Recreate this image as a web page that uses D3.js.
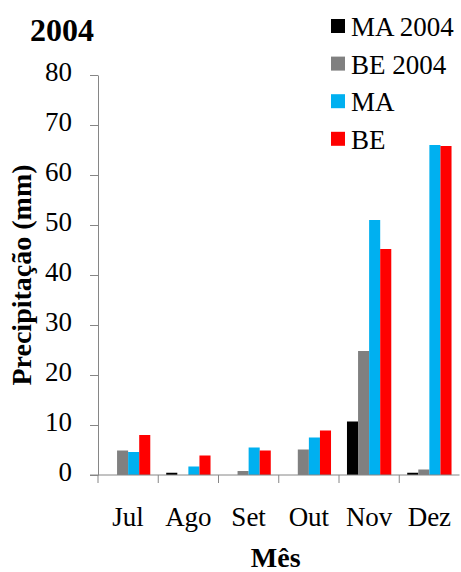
<!DOCTYPE html>
<html>
<head>
<meta charset="utf-8">
<script src="https://cdn.jsdelivr.net/npm/d3@7"></script>
<style>
  body { margin: 0; background: #fff; }
  svg text { fill: #000; }
</style>
</head>
<body>
<div id="chart"></div>
<script>
// chart data
const months = ["Jul", "Ago", "Set", "Out", "Nov", "Dez"]
const seriesNames = ["MA 2004", "BE 2004", "MA", "BE"]
const seriesColors = ["#000000", "#808080", "#00B0F0", "#FF0000"]
const ma2004 = [0, 0.45, 0, 0, 10.7, 0.45]
const be2004 = [4.9, 0, 0.8, 5.1, 24.8, 1.1]
const maMean = [4.6, 1.7, 5.5, 7.5, 51.0, 66.0]
const beMean = [8.0, 3.9, 4.9, 8.9, 45.2, 65.8]
const yTicks = [0, 10, 20, 30, 40, 50, 60, 70, 80]

const allSeries = [ma2004, be2004, maMean, beMean]

const WD = 461, HT = 572
const margin = { left: 98, right: 1.5, top: 75, bottom: 97 }
const width = WD - margin.left - margin.right
const height = HT - margin.top - margin.bottom

const axisColor = "#868686"
const serif = "Times New Roman, Times, Liberation Serif, DejaVu Serif, serif"

var svg = d3.select("#chart")
            .append("svg")
                .attr("width", WD)
                .attr("height", HT)
                .style("font-family", serif);

var g = svg.append("g")
            .attr("transform", "translate(" + margin.left + "," + margin.top + ")");

const xs = d3.scaleBand()
            .domain(months)
            .range([0, width])
            .padding(0)

const xInner = d3.scaleBand()
            .domain(d3.range(seriesNames.length))
            .range([0, xs.bandwidth()])
            .paddingInner(0)
            .paddingOuter(0.72)

const ys = d3.scaleLinear().domain([0, 80]).range([height, 0])

// bars
const table = months.map((m, i) => ({ month: m, values: allSeries.map(s => s[i]) }))

var groups = g.selectAll(".grp")
    .data(table)
    .enter()
    .append("g")
        .attr("class", "grp")
        .attr("transform", d => "translate(" + xs(d.month) + ",0)")

groups.selectAll("rect")
    .data(d => d.values.map((v, k) => ({ k: k, v: v })))
    .enter()
    .append("rect")
        .attr("x", d => xInner(d.k))
        .attr("y", d => ys(d.v))
        .attr("width", xInner.bandwidth())
        .attr("height", d => height - ys(d.v))
        .attr("fill", d => seriesColors[d.k])

// y axis
var yAxis = g.append("g")
    .call(d3.axisLeft(ys).tickValues(yTicks).tickSize(8).tickPadding(18).tickSizeOuter(0))
yAxis.attr("font-family", null)
yAxis.select(".domain").attr("stroke", axisColor)
yAxis.selectAll(".tick line").attr("stroke", axisColor)
yAxis.selectAll(".tick text")
    .attr("font-size", "27px")
    .attr("dy", "0.22em")
    .style("font-family", serif)

// x axis: ticks at category boundaries
var xAxis = g.append("g")
    .attr("transform", "translate(0," + height + ")")
xAxis.append("line")
    .attr("x1", -8).attr("x2", width)
    .attr("stroke", axisColor)
xAxis.selectAll(".xtick")
    .data(months)
    .enter()
    .append("line")
        .attr("class", "xtick")
        .attr("x1", d => xs(d)).attr("x2", d => xs(d))
        .attr("y1", 0).attr("y2", 8)
        .attr("stroke", axisColor)
xAxis.selectAll(".xlabel")
    .data(months)
    .enter()
    .append("text")
        .attr("class", "xlabel")
        .attr("x", d => xs(d) + xs.bandwidth() / 2)
        .attr("y", 51)
        .attr("text-anchor", "middle")
        .attr("font-size", "27px")
        .text(d => d)

// axis titles
svg.append("text")
    .attr("x", margin.left + width / 2 - 3)
    .attr("y", 567)
    .attr("text-anchor", "middle")
    .attr("font-size", "28px")
    .attr("font-weight", "bold")
    .text("Mês")

svg.append("text")
    .attr("transform", "translate(31," + (margin.top + height / 2) + ") rotate(-90)")
    .attr("text-anchor", "middle")
    .attr("font-size", "28px")
    .attr("font-weight", "bold")
    .text("Precipitação (mm)")

// title
svg.append("text")
    .attr("x", 30)
    .attr("y", 41)
    .attr("font-size", "32px")
    .attr("font-weight", "bold")
    .text("2004")

// legend
var legend = svg.append("g")
    .attr("transform", "translate(331,19)")

var items = legend.selectAll(".leg")
    .data(seriesNames)
    .enter()
    .append("g")
        .attr("class", "leg")
        .attr("transform", (d, i) => "translate(0," + (i * 37.6) + ")")

items.append("rect")
    .attr("width", 14)
    .attr("height", 14)
    .attr("fill", (d, i) => seriesColors[i])

items.append("text")
    .attr("x", 20)
    .attr("y", 17)
    .attr("font-size", "27px")
    .text(d => d)
</script>
</body>
</html>
